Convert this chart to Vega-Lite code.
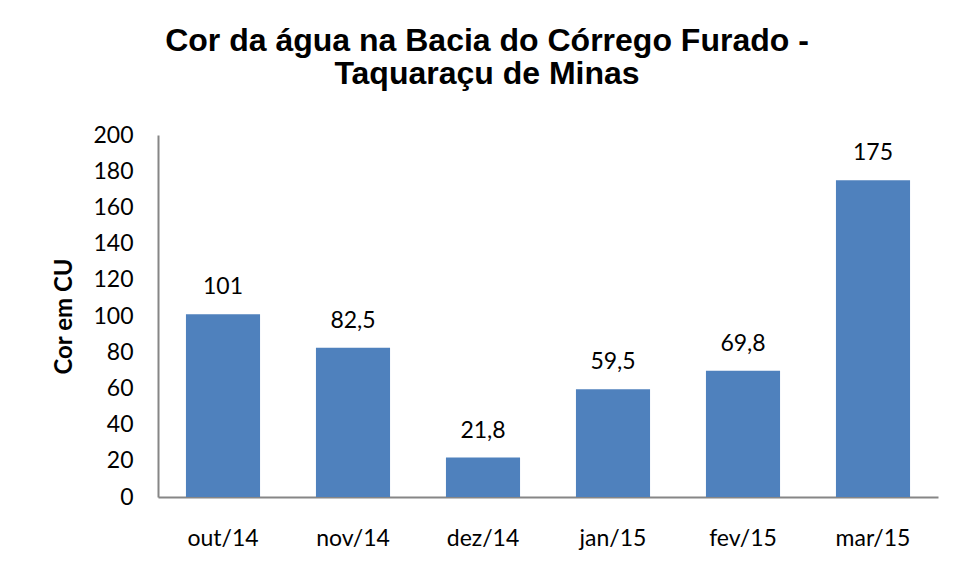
{
  "$schema": "https://vega.github.io/schema/vega-lite/v6.json",
  "width": 780,
  "height": 362,
  "autosize": {"type": "none"},
  "padding": {"left": 158, "top": 135, "right": 19, "bottom": 80},
  "background": "white",
  "title": {
    "text": ["Cor da água na Bacia do Córrego Furado -", "Taquaraçu de Minas"],
    "font": "Liberation Sans",
    "fontSize": 32,
    "fontWeight": "bold",
    "lineHeight": 33,
    "color": "black",
    "anchor": "middle",
    "dx": -61,
    "offset": 33
  },
  "data": {
    "values": [
      {"mes": "out/14", "cor": 101, "rotulo": "101"},
      {"mes": "nov/14", "cor": 82.5, "rotulo": "82,5"},
      {"mes": "dez/14", "cor": 21.8, "rotulo": "21,8"},
      {"mes": "jan/15", "cor": 59.5, "rotulo": "59,5"},
      {"mes": "fev/15", "cor": 69.8, "rotulo": "69,8"},
      {"mes": "mar/15", "cor": 175, "rotulo": "175"}
    ]
  },
  "encoding": {
    "x": {
      "field": "mes",
      "type": "nominal",
      "sort": null,
      "scale": {"paddingInner": 0.43, "paddingOuter": 0.215},
      "axis": {
        "title": null,
        "labelAngle": 0,
        "labelFont": "Lato",
        "labelFontSize": 23,
        "labelColor": "black",
        "labelPadding": 30,
        "ticks": false,
        "domainColor": "#868686",
        "domainWidth": 2
      }
    },
    "y": {
      "field": "cor",
      "type": "quantitative",
      "scale": {"domain": [0, 200], "nice": false},
      "axis": {
        "title": "Cor em CU",
        "titleFont": "Lato",
        "titleFontSize": 24,
        "titleFontWeight": "bold",
        "titleColor": "black",
        "titlePadding": 16,
        "values": [0, 20, 40, 60, 80, 100, 120, 140, 160, 180, 200],
        "labelFont": "Lato",
        "labelFontSize": 23,
        "labelColor": "black",
        "labelPadding": 25,
        "ticks": false,
        "grid": false,
        "domainColor": "#868686",
        "domainWidth": 2
      }
    }
  },
  "layer": [
    {"mark": {"type": "bar", "color": "#4F81BD"}},
    {
      "mark": {"type": "text", "font": "Lato", "fontSize": 23, "color": "black", "baseline": "middle", "dy": -27},
      "encoding": {"text": {"field": "rotulo"}}
    }
  ],
  "config": {"view": {"stroke": null}}
}
